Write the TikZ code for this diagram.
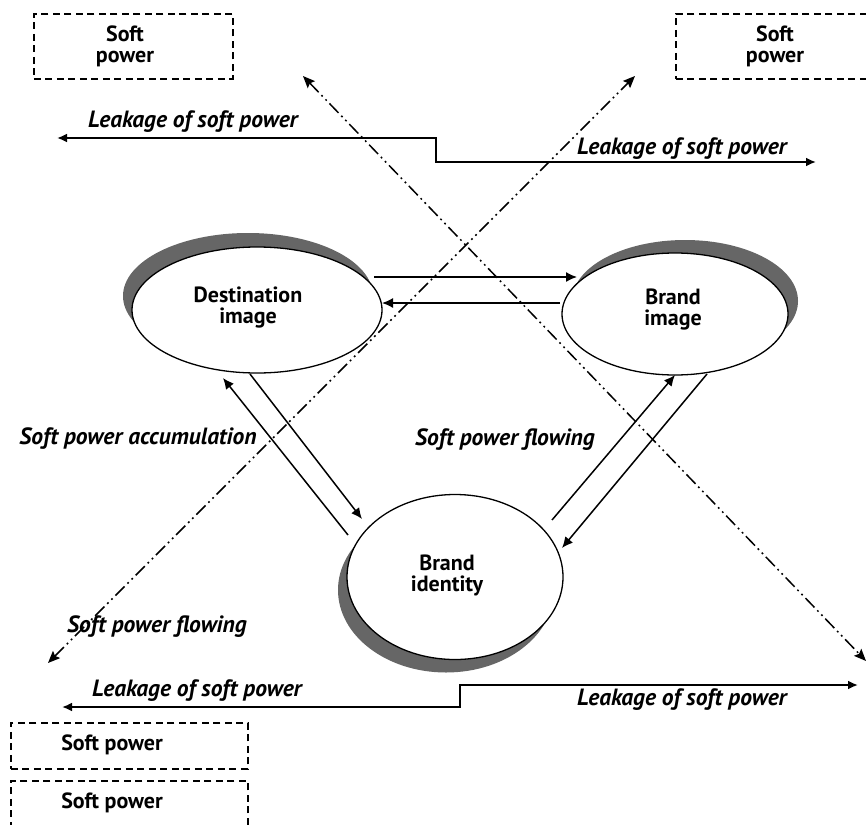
\documentclass[tikz,border=0pt]{standalone}
\usepackage{fontspec}
\setmainfont{PT Sans}
\usetikzlibrary{arrows.meta,shapes.geometric}
\definecolor{shadowgray}{HTML}{666666}
\begin{document}
\begin{tikzpicture}[x=1pt,y=-1pt,
  lbl/.style={font=\bfseries\fontsize{22}{21}\selectfont, align=center, inner sep=0pt},
  ilbl/.style={font=\bfseries\itshape\fontsize{23.5}{20}\selectfont, inner sep=0pt},
  box/.style={draw, line width=1.6pt, dash pattern=on 7pt off 4.5pt},
  ell/.style={ellipse, draw, fill=white, line width=1.3pt, inner sep=0pt},
  shd/.style={ellipse, fill=shadowgray, inner sep=0pt},
  arr/.style={line width=1.5pt, -{Latex[length=11pt,width=10pt]}},
  leak/.style={line width=2.2pt, {Latex[length=10pt,width=9pt]}-{Latex[length=10pt,width=9pt]}},
  dd/.style={line width=1.5pt, dash pattern=on 13pt off 4pt on 1.8pt off 4pt on 1.8pt off 4pt,
     {Stealth[length=12pt,width=10pt,inset=2pt]}-{Stealth[length=12pt,width=10pt,inset=2pt]}},
]
\useasboundingbox (0,0) rectangle (866,824);

% dashed boxes
\node[box, minimum width=199pt, minimum height=65pt, anchor=north west] (b1) at (33,13) {};
\node[lbl] (t1) at (125,46) {Soft\\power};
\node[box, minimum width=201pt, minimum height=65pt, anchor=north west] (b2) at (675,13) {};
\node[lbl] (t2) at (775,46) {Soft\\power};
\node[box, minimum width=237pt, minimum height=46pt, anchor=north west] (b3) at (10,722) {};
\node[lbl] (t3) at (112,745) {Soft power};
\node[box, minimum width=237pt, minimum height=60pt, anchor=north west] (b4) at (10,780) {};
\node[lbl] (t4) at (112,803) {Soft power};

% ellipses with shadows
\node[shd, minimum width=250pt, minimum height=126pt] (ds) at (248,296) {};
\node[ell, minimum width=250pt, minimum height=126pt] (dest) at (257,310) {};
\node[lbl] (dl) at (248,308) {Destination\\image};

\node[shd, minimum width=226pt, minimum height=122pt] (bs) at (685,301) {};
\node[ell, minimum width=226pt, minimum height=122pt] (bimg) at (675,314) {};
\node[lbl] (bl) at (673,310) {Brand\\image};

\node[shd, minimum width=216pt, minimum height=165pt] (is) at (446,590) {};
\node[ell, minimum width=216pt, minimum height=165pt] (bid) at (455,577) {};
\node[lbl] (il) at (447,575) {Brand\\identity};

% arrows between ellipses
\coordinate (h1a) at (374,277); \coordinate (h1b) at (577,277);
\coordinate (h2a) at (560,303); \coordinate (h2b) at (382,303);
\draw[arr] (h1a) -- (h1b);
\draw[arr] (h2a) -- (h2b);

\coordinate (l1a) at (348,535); \coordinate (l1b) at (223,378);
\coordinate (l2a) at (250,374); \coordinate (l2b) at (362,519);
\draw[arr] (l1a) -- (l1b);
\draw[arr] (l2a) -- (l2b);

\coordinate (r1a) at (552,520); \coordinate (r1b) at (675,375);
\coordinate (r2a) at (707,374); \coordinate (r2b) at (562,548);
\draw[arr] (r1a) -- (r1b);
\draw[arr] (r2a) -- (r2b);

% leakage arrows
\coordinate (lt1) at (57,138); \coordinate (lt2) at (436,138);
\coordinate (lt3) at (436,162); \coordinate (lt4) at (816,162);
\draw[leak] (lt1) -- (lt2) -- (lt3) -- (lt4);
\coordinate (lb1) at (62,707); \coordinate (lb2) at (460,707);
\coordinate (lb3) at (460,685); \coordinate (lb4) at (858,685);
\draw[leak] (lb1) -- (lb2) -- (lb3) -- (lb4);

% dash-dot lines
\coordinate (d1a) at (48,663); \coordinate (d1b) at (635,76);
\coordinate (d2a) at (303,76); \coordinate (d2b) at (866,661);
\draw[dd] (d1a) -- (d1b);
\draw[dd] (d2a) -- (d2b);

% italic labels
\node[ilbl] (k1) at (193,122) {Leakage of soft power};
\node[ilbl] (k2) at (682,149) {Leakage of soft power};
\node[ilbl] (k3) at (197,691) {Leakage of soft power};
\node[ilbl] (k4) at (682,700) {Leakage of soft power};
\node[ilbl] (a1) at (138,439) {Soft power accumulation};
\node[ilbl] (f1) at (505,440) {Soft power flowing};
\node[ilbl] (f2) at (157,627) {Soft power flowing};
\end{tikzpicture}
\end{document}
